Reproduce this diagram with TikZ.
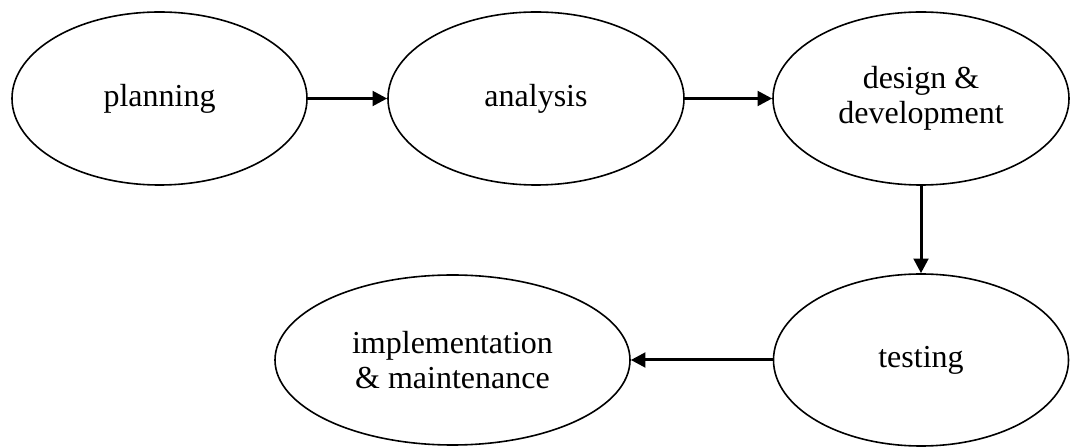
\documentclass[tikz,border=0pt]{standalone}
\usepackage{fontspec}
\setmainfont{Liberation Serif}
\usetikzlibrary{shapes.geometric,arrows.meta}
\newlength{\du}
\setlength{\du}{0.75pt}
\tikzset{
  phase/.style={ellipse,draw=black,line width=1.6\du,inner sep=0pt,align=center,
    font=\fontsize{24}{26.25}\selectfont,minimum height=173\du},
  flow/.style={line width=3\du,-{Triangle[length=11pt,width=11pt]}}
}
\begin{document}
\begin{tikzpicture}
\pgftransformyscale{-1.000000}
\useasboundingbox (0\du,0\du) rectangle (1071\du,448\du);
% phases
\node[phase,minimum width=295\du] (planning) at (159.5\du,98.5\du){planning};
\node[phase,minimum width=296\du] (analysis) at (536\du,98.5\du){analysis};
\node[phase,minimum width=296\du] (design) at (921\du,98.5\du){design \&\\development};
\node[phase,minimum width=295\du,minimum height=172\du] (testing) at (921\du,360\du){testing};
\node[phase,minimum width=355\du,minimum height=170\du] (implementation) at (452.5\du,360\du){implementation\\\& maintenance};
% arrows
\draw[flow] (planning) -- (analysis);
\draw[flow] (analysis) -- (design);
\draw[flow] (design) -- (testing);
\draw[flow] (testing) -- (implementation);
\end{tikzpicture}
\end{document}
